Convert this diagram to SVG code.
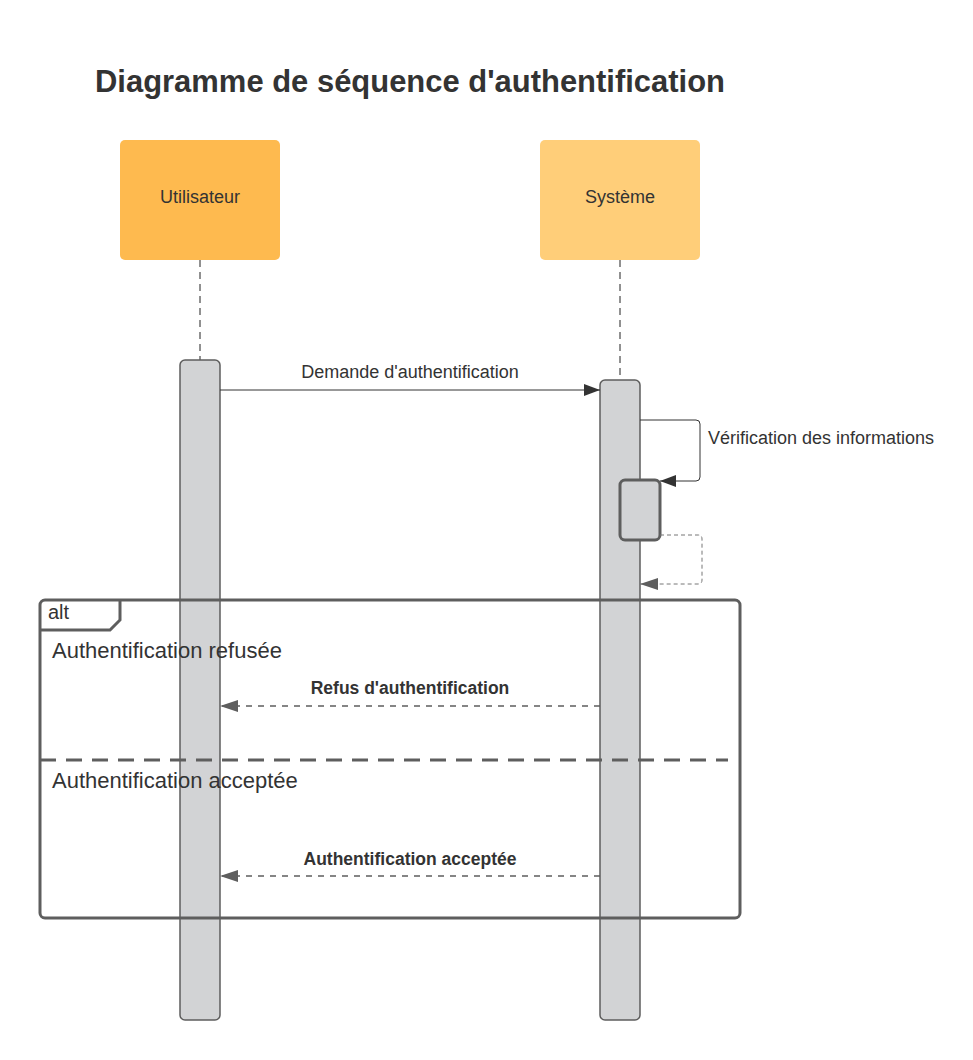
<svg xmlns="http://www.w3.org/2000/svg" width="973" height="1060" viewBox="0 0 973 1060">
<style>
text{font-family:"Liberation Sans",Arial,sans-serif;fill:#333}
.act{fill:#d2d3d5;stroke:#5e5e5e;stroke-width:1.5}
.life{stroke:#222;stroke-width:1;stroke-dasharray:7,5;fill:none}
.msg{stroke:#333;stroke-width:1;fill:none}
.ret{stroke:#5e5e5e;stroke-width:1.5;stroke-dasharray:6,6;fill:none}
.frame{fill:none;stroke:#5e5e5e;stroke-width:3}
</style>
<defs>
<marker id="ah" markerWidth="16" markerHeight="12" refX="16" refY="6" orient="auto" markerUnits="userSpaceOnUse"><path d="M0,0L16,6L0,12Z" fill="#333"/></marker>
<marker id="ahg" markerWidth="18" markerHeight="12" refX="18" refY="6" orient="auto" markerUnits="userSpaceOnUse"><path d="M0,0L18,6L0,12Z" fill="#5e5e5e"/></marker>
</defs>
<rect width="973" height="1060" fill="#fff"/>
<text x="95" y="92" font-size="31" font-weight="bold" textLength="630" lengthAdjust="spacingAndGlyphs">Diagramme de séquence d'authentification</text>
<g id="utilisateur">
<rect x="120" y="140" width="160" height="120" rx="5" fill="#feba4f"/>
<text x="200" y="203" font-size="18" text-anchor="middle">Utilisateur</text>
<line class="life" x1="200" y1="260" x2="200" y2="360"/>
<rect class="act" x="180" y="360" width="40" height="660" rx="5"/>
</g>
<g id="systeme">
<rect x="540" y="140" width="160" height="120" rx="5" fill="#ffce79"/>
<text x="620" y="203" font-size="18" text-anchor="middle">Système</text>
<line class="life" x1="620" y1="260" x2="620" y2="380"/>
<rect class="act" x="600" y="380" width="40" height="640" rx="5"/>
<rect x="620" y="480" width="40" height="60" rx="5" fill="#d2d3d5" stroke="#5e5e5e" stroke-width="3"/>
</g>
<g id="alt">
<rect class="frame" x="40" y="600" width="700" height="318" rx="5"/>
<path class="frame" d="M40,630H110L120,620V600"/>
<text x="48" y="619" font-size="20">alt</text>
<text x="52" y="658" font-size="22">Authentification refusée</text>
<line x1="40" y1="760" x2="728" y2="760" stroke="#5e5e5e" stroke-width="3" stroke-dasharray="16,10"/>
<text x="52" y="788" font-size="22">Authentification acceptée</text>
</g>
<g id="connectors">
<line class="msg" x1="220" y1="390" x2="600" y2="390" marker-end="url(#ah)"/>
<text x="410" y="378" font-size="18" text-anchor="middle">Demande d'authentification</text>
<path class="msg" d="M640,420H696Q700,420 700,424V477Q700,481 696,481H660" marker-end="url(#ah)"/>
<text x="708" y="444" font-size="18">Vérification des informations</text>
<path d="M660,535H698Q702,535 702,539V580Q702,584 698,584H640" fill="none" stroke="#777" stroke-width="1" stroke-dasharray="4,3" marker-end="url(#ahg)"/>
<line class="ret" x1="600" y1="706" x2="220" y2="706" marker-end="url(#ahg)"/>
<text x="410" y="694" font-size="17.5" font-weight="bold" text-anchor="middle">Refus d'authentification</text>
<line class="ret" x1="600" y1="876" x2="220" y2="876" marker-end="url(#ahg)"/>
<text x="410" y="865" font-size="17.5" font-weight="bold" text-anchor="middle">Authentification acceptée</text>
</g>
</svg>
